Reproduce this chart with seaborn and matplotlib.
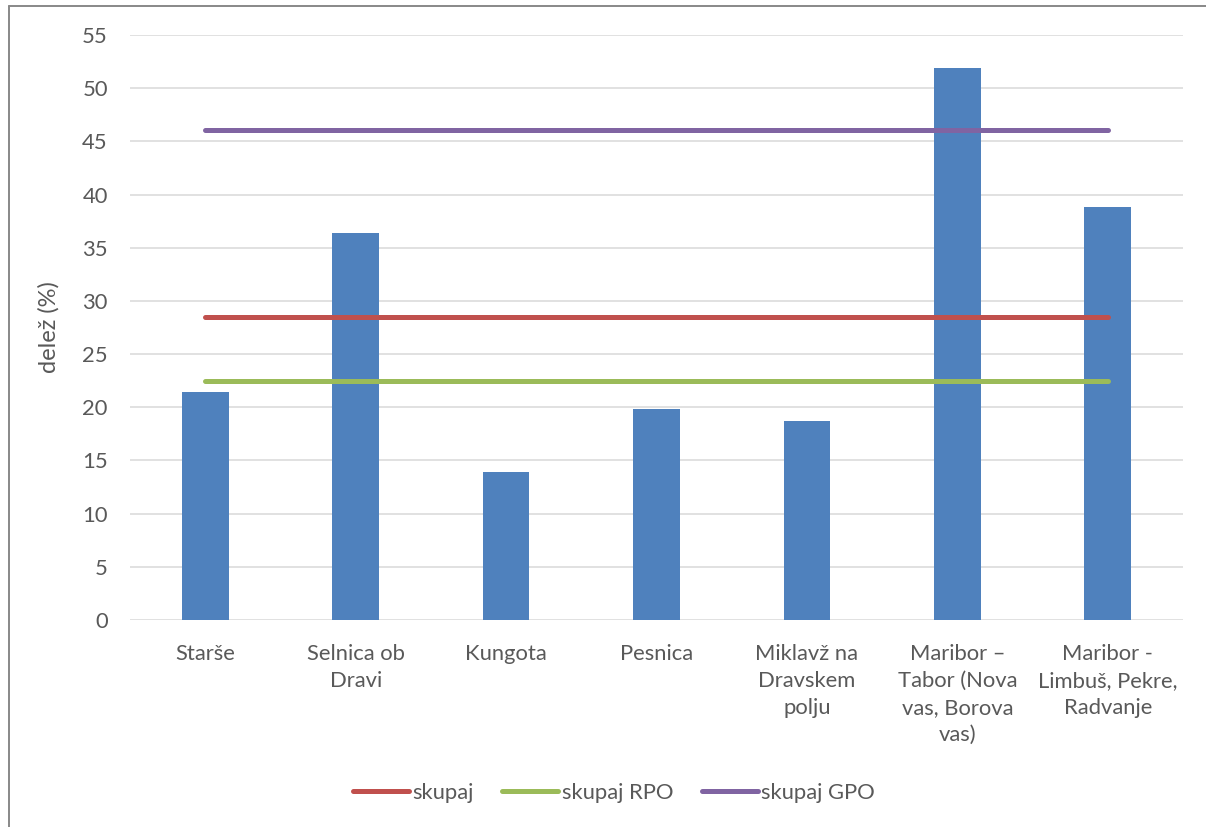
import numpy as np
import pandas as pd
import matplotlib
matplotlib.use("Agg")
import matplotlib.pyplot as plt
from matplotlib.lines import Line2D
import seaborn as sns

categories = ["Starše", "Selnica ob\nDravi", "Kungota", "Pesnica",
              "Miklavž na\nDravskem\npolju", "Maribor –\nTabor (Nova\nvas, Borova\nvas)",
              "Maribor -\nLimbuš, Pekre,\nRadvanje"]
delez = [21.4, 36.4, 13.9, 19.8, 18.7, 51.9, 38.8]
line_names = ["skupaj", "skupaj RPO", "skupaj GPO"]
line_values = [28.5, 22.5, 46.1]
line_colors = ["#C0504D", "#9BBB59", "#8064A2"]
y_ticks = [0, 5, 10, 15, 20, 25, 30, 35, 40, 45, 50, 55]

sns.set_theme(style="white")
plt.rcParams['font.family'] = ['Lato', 'DejaVu Sans']
txt = "#595959"
fs = 15.8

fig = plt.figure(figsize=(12.06, 8.27), dpi=100)
ax = fig.add_axes([130/1206, 1-620/827, (1183-130)/1206, (620-35)/827])

df = pd.DataFrame({"kategorija": categories, "delez": delez})
sns.barplot(data=df, x="kategorija", y="delez", color="#4F81BD", width=0.31,
            saturation=1, ax=ax, zorder=3, edgecolor="#4F81BD", linewidth=0)

xpos = np.arange(len(categories))
for name, val, col in zip(line_names, line_values, line_colors):
    ax.plot(xpos, np.full(len(categories), val), color=col, lw=3.6,
            solid_capstyle="round", label=name, zorder=4)

ax.set_xlim(-0.5, len(categories) - 0.5)
ax.set_ylim(0, 55)
ax.set_yticks(y_ticks)
ax.yaxis.grid(True, color="#D9D9D9", lw=1.1, zorder=0)
ax.set_axisbelow(True)
for s in ax.spines.values():
    s.set_visible(False)
ax.tick_params(axis="both", length=0, colors=txt, labelsize=fs)
ax.tick_params(axis="y", pad=16)
ax.tick_params(axis="x", pad=17)
for lab in ax.get_xticklabels():
    lab.set_linespacing(1.45)
    lab.set_multialignment("center")
ax.set_xlabel("")
ax.set_ylabel("delež (%)", color=txt, fontsize=17)
ax.yaxis.set_label_coords(-70/1053, 0.5)

leg = ax.legend(loc="center", bbox_to_anchor=((614-130)/1053, (620-793)/585), ncol=3,
                frameon=False, fontsize=fs, handlelength=2.55, handletextpad=0.15,
                columnspacing=1.3)
for t in leg.get_texts():
    t.set_color(txt)

fig.add_artist(Line2D([8.5/1206, 8.5/1206], [0, 1-5.5/827], color="#888888", lw=1.4))
fig.add_artist(Line2D([8.5/1206, 1], [1-5.5/827, 1-5.5/827], color="#888888", lw=1.4))

fig.savefig("out.png", dpi=100)
